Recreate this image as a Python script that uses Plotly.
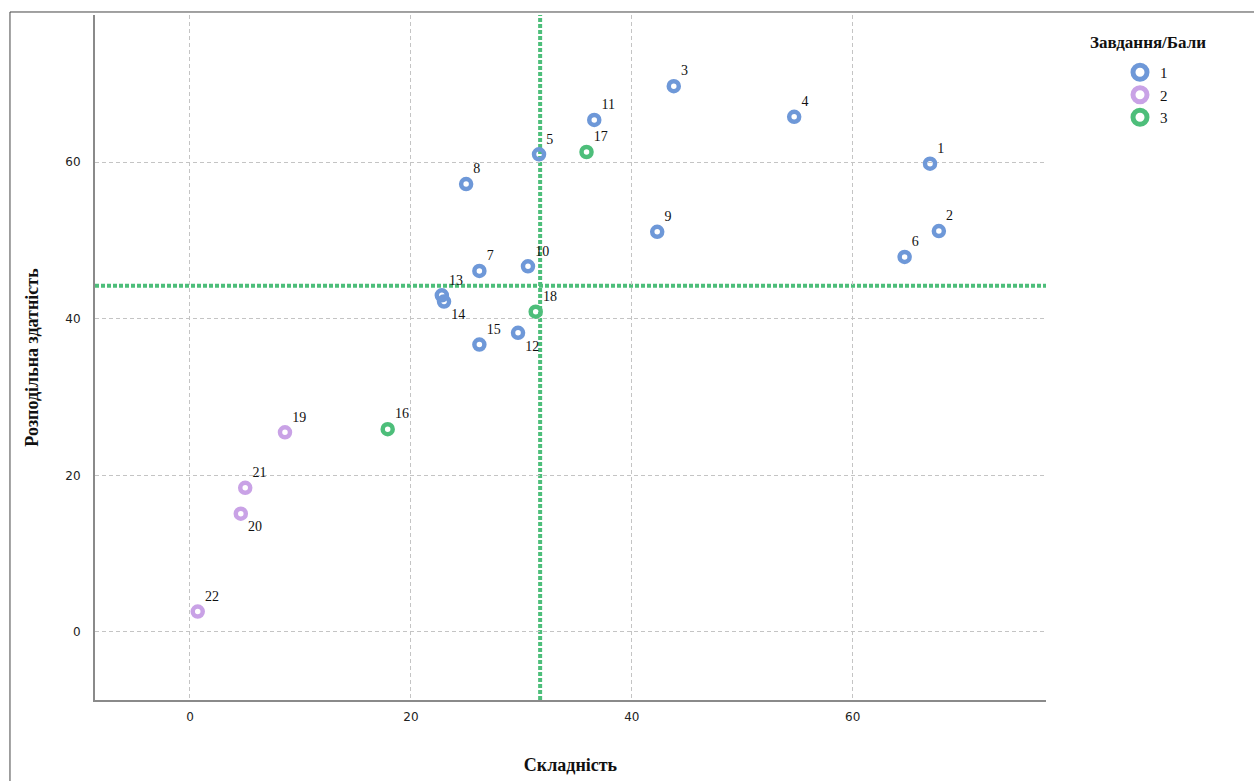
import plotly.graph_objects as go

# ---- data ----
labels = ["1", "2", "3", "4", "5", "6", "7", "8", "9", "10", "11",
          "12", "13", "14", "15", "16", "17", "18", "19", "20", "21", "22"]
complexity = [67.0, 67.8, 43.8, 54.7, 31.6, 64.7, 26.2, 25.0, 42.3, 30.6, 36.6,
              29.7, 22.8, 23.0, 26.2, 17.9, 35.9, 31.3, 8.6, 4.6, 5.0, 0.7]
discrimination = [59.8, 51.2, 69.7, 65.8, 61.0, 47.9, 46.1, 57.2, 51.1, 46.7, 65.4,
                  38.2, 43.0, 42.2, 36.7, 25.9, 61.3, 40.9, 25.5, 15.1, 18.4, 2.6]
group = [1, 1, 1, 1, 1, 1, 1, 1, 1, 1, 1,
         1, 1, 1, 1, 3, 3, 3, 2, 2, 2, 2]
label_pos = ["top right"] * 22
label_pos[11] = "bottom right"   # 12
label_pos[13] = "bottom right"   # 14
label_pos[19] = "bottom right"   # 20

groups = [1, 2, 3]
group_names = ["1", "2", "3"]
group_colors = {1: "#6E98D8", 2: "#C9A2E6", 3: "#4DBE7A"}
ref_x = 31.7
ref_y = 44.2

x_ticks = [0, 20, 40, 60]
y_ticks = [0, 20, 40, 60]

fig = go.Figure()

for g in groups:
    idx = [i for i, gg in enumerate(group) if gg == g]
    fig.add_trace(go.Scatter(
        x=[complexity[i] for i in idx],
        y=[discrimination[i] for i in idx],
        text=[labels[i] for i in idx],
        textposition=[label_pos[i] for i in idx],
        mode="markers+text",
        marker=dict(symbol="circle-open", size=10, color=group_colors[g],
                    line=dict(width=4.5, color=group_colors[g])),
        textfont=dict(family="Liberation Serif", size=14, color="#111"),
        showlegend=False,
        cliponaxis=False,
    ))

# legend-only traces (larger rings)
for g, name in zip(groups, group_names):
    fig.add_trace(go.Scatter(
        x=[None], y=[None], mode="markers", name=name,
        marker=dict(symbol="circle-open", size=14, color=group_colors[g],
                    line=dict(width=5.5, color=group_colors[g])),
    ))

# reference lines
fig.add_shape(type="line", xref="x", yref="paper", x0=ref_x, x1=ref_x, y0=0, y1=1,
              line=dict(color="#4DBE7A", width=4, dash="4px,2px"), layer="below")
fig.add_shape(type="line", xref="paper", yref="y", x0=0, x1=1, y0=ref_y, y1=ref_y,
              line=dict(color="#4DBE7A", width=4, dash="4px,2px"), layer="below")

# outer frame (top and left lines)
fig.add_shape(type="line", xref="paper", yref="paper", x0=-0.0894, x1=1.25, y0=1.0044, y1=1.0044,
              line=dict(color="#444", width=1))
fig.add_shape(type="line", xref="paper", yref="paper", x0=-0.0894, x1=-0.0894, y0=1.0044, y1=-0.2,
              line=dict(color="#444", width=1))

fig.add_annotation(text="<b>Завдання/Бали</b>", xref="paper", yref="paper",
                   x=(1148 - 95) / 951, y=1 - (42 - 15) / 685, showarrow=False,
                   xanchor="center", yanchor="middle",
                   font=dict(family="Liberation Serif", size=17, color="#111"))

fig.update_layout(
    width=1254, height=781,
    margin=dict(l=95, r=208, t=15, b=81),
    paper_bgcolor="white", plot_bgcolor="white",
    legend=dict(x=(1120 - 95) / 951, y=1 - (56 - 15) / 685, xanchor="left", yanchor="top",
                font=dict(family="Liberation Serif", size=15, color="#111"),
                tracegroupgap=0, itemwidth=30, bgcolor="rgba(0,0,0,0)"),
    xaxis=dict(range=[-8.6, 77.5], tickvals=x_ticks, showgrid=True,
               gridcolor="#c4c4c4", griddash="4px,3px", gridwidth=1,
               zeroline=False, showline=True, linecolor="#8a8a8a", linewidth=2,
               ticks="", ticklabelstandoff=5, automargin=False,
               tickfont=dict(family="DejaVu Sans", size=12, color="#222"),
               title=dict(text="<b>Складність</b>", standoff=35,
                          font=dict(family="Liberation Serif", size=18, color="#111"))),
    yaxis=dict(range=[-8.7, 78.8], tickvals=y_ticks, showgrid=True,
               gridcolor="#c4c4c4", griddash="4px,3px", gridwidth=1,
               zeroline=False, showline=True, linecolor="#8a8a8a", linewidth=2,
               ticks="", ticklabelstandoff=10, automargin=False,
               tickfont=dict(family="DejaVu Sans", size=12, color="#222"),
               title=dict(text="<b>Розподільна здатність</b>", standoff=22,
                          font=dict(family="Liberation Serif", size=18, color="#111"))),
)

fig.write_html("out.html", config={"displayModeBar": False},
               post_script="document.body.style.margin='0';")
